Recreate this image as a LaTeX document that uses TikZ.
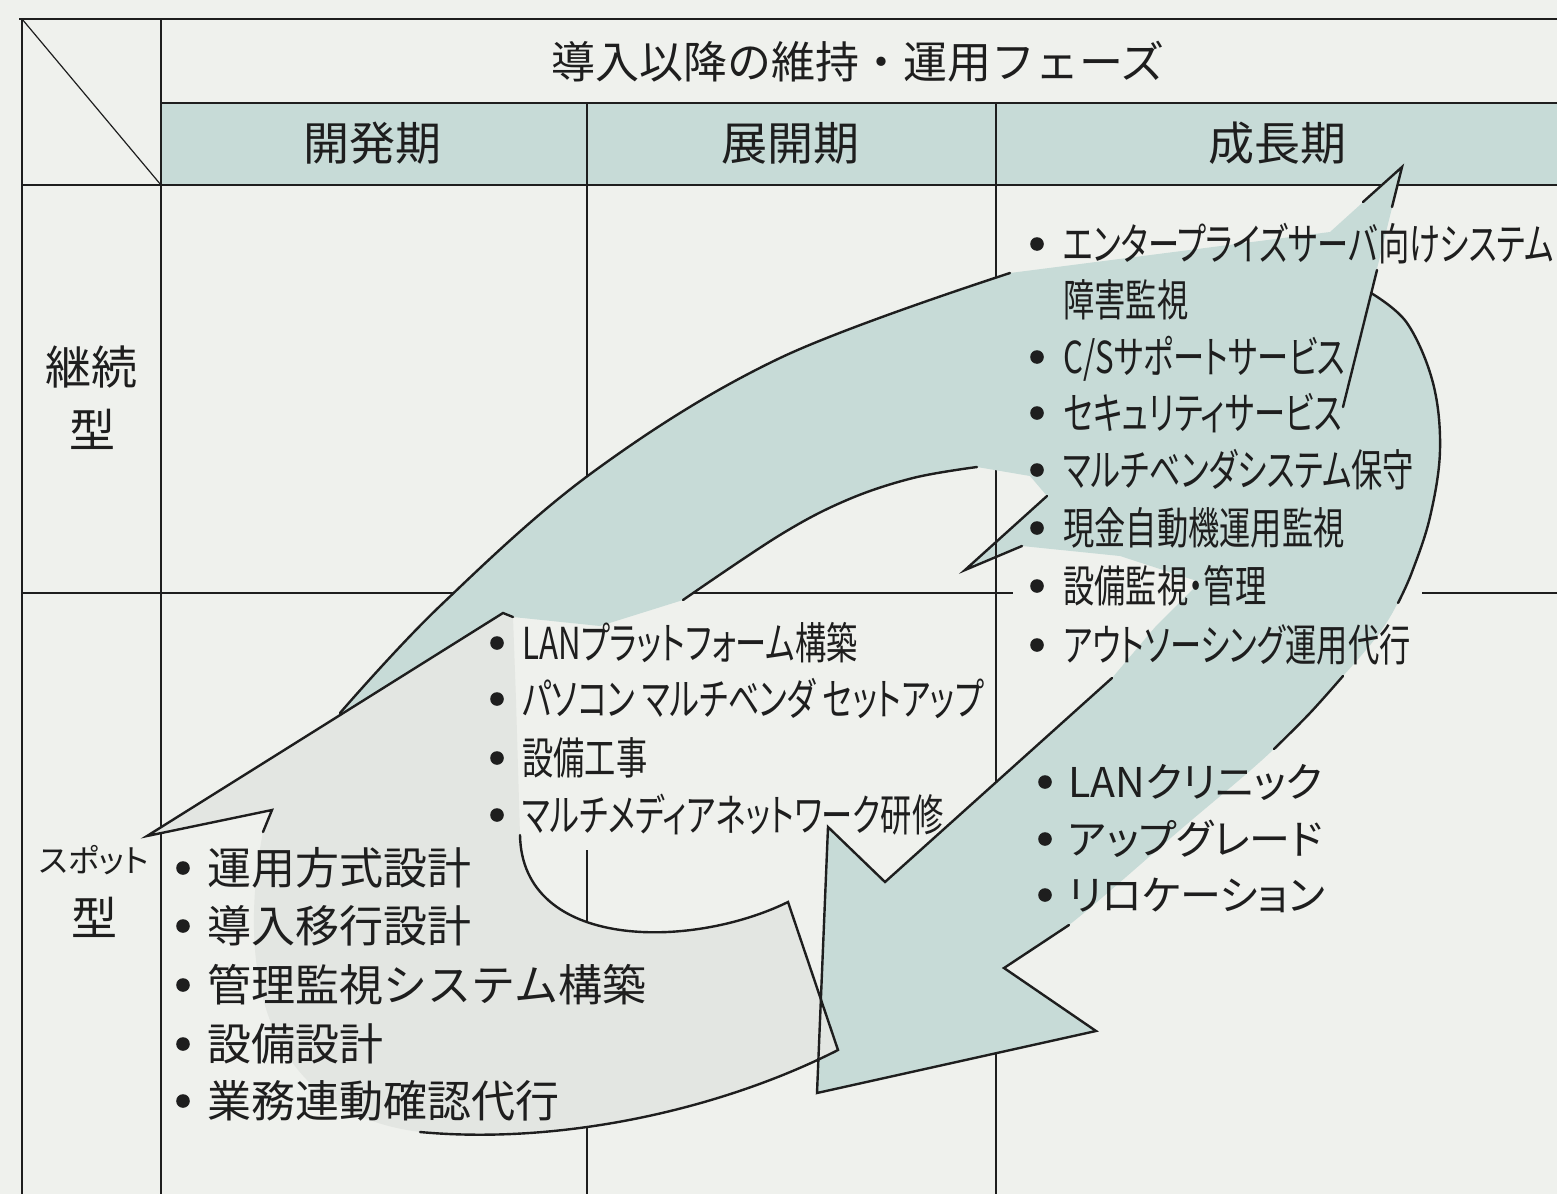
\documentclass[tikz,border=0pt]{standalone}
\usepackage{fontspec}
\newfontfamily\jpw{Noto Sans CJK JP}
\newfontfamily\jpk[FakeStretch=0.71,RawFeature=+palt]{Noto Sans CJK JP}
\newfontfamily\jpp[RawFeature=+palt]{Noto Sans CJK JP}
\definecolor{pagebg}{HTML}{EFF1ED}
\definecolor{arrteal}{HTML}{C7DBD7}
\definecolor{arrgray}{HTML}{E3E6E2}
\definecolor{ink}{HTML}{1E1E1E}
\tikzset{
  tline/.style={draw=ink, line width=0.75pt},
  aline/.style={draw=ink, line width=1.2pt, line join=miter, line cap=round},
  txt/.style={text=ink, inner sep=0pt},
  ttlfont/.style={txt, text height=18.26pt, text depth=1.54pt, font=\jpw\fontsize{22}{26}\selectfont},
  hdfont/.style={txt, text height=19.09pt, text depth=1.61pt, font=\jpw\fontsize{23}{27}\selectfont},
  spotfont/.style={txt, text height=13.28pt, text depth=1.12pt, font=\jpp\fontsize{16}{19}\selectfont},
  narrow/.style={txt, anchor=west, text height=18.26pt, text depth=1.54pt, font=\jpk\fontsize{22}{26}\selectfont},
  wideitem/.style={txt, anchor=west, text height=18.26pt, text depth=1.54pt, font=\jpw\fontsize{22}{26}\selectfont},
  miditem/.style={txt, anchor=west, text height=17.02pt, text depth=1.44pt, font=\jpp\fontsize{20.5}{24}\selectfont},
  bul/.style={circle, fill=ink, inner sep=0pt, minimum size=6.8pt},
}
\begin{document}
\begin{tikzpicture}[x=0.5pt,y=-0.5pt]
\fill[pagebg] (0,0) rectangle (1557,1194);
\useasboundingbox (0,0) rectangle (1557,1194);
% header band
\fill[arrteal] (161,103) rectangle (1557,185);
% table lines
\draw[tline] (19,19) -- (1557,19);
\draw[tline] (22,19) -- (22,1194);
\draw[tline] (161,19) -- (161,1194);
\draw[tline] (161,103) -- (1557,103);
\draw[tline] (22,185) -- (1557,185);
\draw[ink, line width=0.6pt] (22,19) -- (161,185);
\draw[tline] (587,103) -- (587,600);
\draw[tline] (587,850) -- (587,1194);
\draw[tline] (996,103) -- (996,1194);
\draw[tline] (22,593) -- (1013,593);
\draw[tline] (1422,593) -- (1557,593);
% teal arrows (growth cycle)
\fill[arrteal] (330,721)
  -- plot[smooth, tension=0.6] coordinates {(340,713) (440,606) (593,472) (780,358) (1010,273)}
  -- (1330,232) -- (1402,167) -- (1371,293)
  -- plot[smooth, tension=0.6] coordinates {(1371,293) (1407,323) (1433,383) (1440,450) (1430,517) (1410,575) (1385,625) (1343,676) (1274,749) (1180,830) (1069,925) (1004,968)}
  -- (1096,1031) -- (817,1093) -- (828,827) -- (885,882) -- (1112,678) -- (1156,626) -- (1200,582) -- (1120,556) -- (1022,546) -- (965,570) -- (1047,496) -- (1030,476)
  -- plot[smooth, tension=0.6] coordinates {(977,467) (913,478) (847,500) (780,535) (683,600)}
  -- (600,626) -- (513,617) -- (503,613) -- cycle;
% gray arrow
\fill[arrgray] (147,836) -- (503,613) -- (513,617) -- (516,700) -- (520,835)
  .. controls (522,950) and (690,950) .. (788,902) -- (838,1050)
  .. controls (720,1110) and (560,1145) .. (420,1132)
  .. controls (250,1110) and (240,950) .. (263,832) -- (272,810) -- cycle;
\draw[tline] (996,530) -- (996,575);
% outlines
\draw[aline] (513,617) -- (503,613) -- (147,836) -- (272,810) -- (263,832);
\draw[aline] plot[smooth, tension=0.6] coordinates {(340,713) (440,606) (593,472) (780,358) (1010,273)};
\draw[aline] plot[smooth, tension=0.6] coordinates {(683,600) (780,535) (847,500) (913,478) (977,467)};
\draw[aline] (1363,202) -- (1402,167) -- (1392,207);
\draw[aline] (1377,270) -- (1343,407);
\draw[aline] plot[smooth, tension=0.6] coordinates {(1371,293) (1407,323) (1433,383) (1440,450) (1430,517) (1412,572) (1398,603)};
\draw[aline] plot[smooth, tension=0.6] coordinates {(1343,676) (1310,713) (1274,749)};
\draw[aline] (1069,925) -- (1004,968) -- (1096,1031) -- (817,1093) -- (828,827) -- (885,882) -- (1112,678);
\draw[aline] (1047,496) -- (965,570) -- (1022,546);
\draw[aline] (520,835) .. controls (522,950) and (690,950) .. (788,902) -- (838,1050)
  .. controls (720,1110) and (560,1145) .. (420,1132);
% headings
\node[ttlfont] (ttl) at (858,62) {導入以降の維持・運用フェーズ};
\node[hdfont] (hd1) at (372,143) {開発期};
\node[hdfont] (hd2) at (790,143) {展開期};
\node[hdfont] (hd3) at (1277,143) {成長期};
\node[hdfont] (r1a) at (91,367) {継続};
\node[hdfont] (r1b) at (92,430) {型};
\node[spotfont] (r2a) at (94,860) {スポット};
\node[hdfont] (r2b) at (94,918) {型};
% growth / continuous list
\node[bul] (gb1) at (1037,244) {};
\node[narrow] (g1) at (1063,244) {エンタープライズサーバ向けシステム};
\node[narrow] (g1b) at (1063,300) {障害監視};
\node[bul] (gb2) at (1037,357) {};
\node[narrow] (g2) at (1063,357) {C/Sサポートサービス};
\node[bul] (gb3) at (1037,413) {};
\node[narrow] (g3) at (1063,413) {セキュリティサービス};
\node[bul] (gb4) at (1037,470) {};
\node[narrow] (g4) at (1063,470) {マルチベンダシステム保守};
\node[bul] (gb5) at (1037,528) {};
\node[narrow] (g5) at (1063,528) {現金自動機運用監視};
\node[bul] (gb6) at (1037,586) {};
\node[narrow] (g6) at (1063,586) {設備監視・管理};
\node[bul] (gb7) at (1037,645) {};
\node[narrow] (g7) at (1063,645) {アウトソーシング運用代行};
% deployment / spot list
\node[bul] (db1) at (497,643) {};
\node[narrow] (d1) at (522,643) {LANプラットフォーム構築};
\node[bul] (db2) at (497,699) {};
\node[narrow] (d2) at (522,699) {パソコン マルチベンダ セットアップ};
\node[bul] (db3) at (497,758) {};
\node[narrow] (d3) at (522,758) {設備工事};
\node[bul] (db4) at (497,815) {};
\node[narrow] (d4) at (522,815) {マルチメディアネットワーク研修};
% growth / spot list
\node[bul] (sb1) at (1045,782) {};
\node[miditem] (s1) at (1068,782) {LANクリニック};
\node[bul] (sb2) at (1045,839) {};
\node[miditem] (s2) at (1068,839) {アップグレード};
\node[bul] (sb3) at (1045,895) {};
\node[miditem] (s3) at (1068,895) {リロケーション};
% development / spot list
\node[bul] (vb1) at (183,868) {};
\node[wideitem] (v1) at (207,868) {運用方式設計};
\node[bul] (vb2) at (183,926) {};
\node[wideitem] (v2) at (207,926) {導入移行設計};
\node[bul] (vb3) at (183,985) {};
\node[wideitem] (v3) at (207,985) {管理監視システム構築};
\node[bul] (vb4) at (183,1044) {};
\node[wideitem] (v4) at (207,1044) {設備設計};
\node[bul] (vb5) at (183,1101) {};
\node[wideitem] (v5) at (207,1101) {業務連動確認代行};
\end{tikzpicture}
\end{document}
